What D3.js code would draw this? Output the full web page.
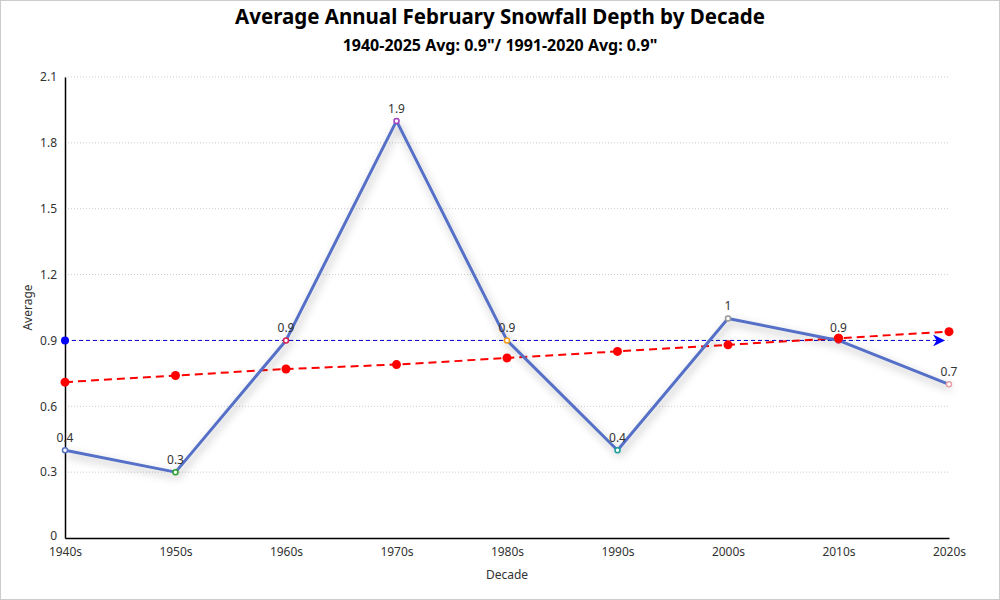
<!DOCTYPE html>
<html>
<head>
<meta charset="utf-8">
<script src="https://cdn.jsdelivr.net/npm/d3@7"></script>
<style>
  body { margin: 0; background: #fff; }
  #content { width: 1000px; height: 600px; }
  text { font-family: "Noto Sans", "Open Sans", sans-serif; }
</style>
</head>
<body>
<div id="content"></div>
<script>
(function(d3) {

   var decades = ["1940s", "1950s", "1960s", "1970s", "1980s", "1990s", "2000s", "2010s", "2020s"];
   var averages = [0.4, 0.3, 0.9, 1.9, 0.9, 0.4, 1, 0.9, 0.7];
   var trend = [0.71, 0.74, 0.77, 0.79, 0.82, 0.85, 0.88, 0.91, 0.94];
   var markerColors = ["#5470c6", "#2ca02c", "#d62050", "#a040c0", "#f39c12", "#17a09a", "#999999", "#c03060", "#e8a0a8"];
   var yTicks = [0, 0.3, 0.6, 0.9, 1.2, 1.5, 1.8, 2.1];
   var overallAvg = 0.9;

   var win_width = 1000;
   var win_height = 600;
   var left = 65, right = 949, top = 77, bottom = 538;

   var svg = d3.select("#content")
            .append("svg")
            .attr("width", win_width)
            .attr("height", win_height);

   // border round the whole chart
   svg.append("rect")
      .attr("x", 0.5).attr("y", 0.5)
      .attr("width", win_width - 1).attr("height", win_height - 1)
      .attr("fill", "#fff").attr("stroke", "#ccc");

   var defs = svg.append("defs");
   var shadow = defs.append("filter").attr("id", "shadow")
      .attr("x", "-10%").attr("y", "-10%").attr("width", "120%").attr("height", "130%");
   shadow.append("feDropShadow")
      .attr("dx", 2).attr("dy", 4).attr("stdDeviation", 4)
      .attr("flood-color", "#000").attr("flood-opacity", 0.3);

   defs.append("marker").attr("id", "arrow")
      .attr("viewBox", "0 0 10 10").attr("refX", 10).attr("refY", 5)
      .attr("markerWidth", 16).attr("markerHeight", 12).attr("markerUnits", "userSpaceOnUse")
      .attr("orient", "auto")
      .append("path").attr("d", "M0,0 L10,5 L0,10 L3,5 Z").attr("fill", "#0000ff");

   var x = d3.scalePoint().domain(decades).range([left, right]);
   var y = d3.scaleLinear().domain([0, 2.1]).range([bottom, top]);

   // title
   svg.append("text").attr("x", 500).attr("y", 24).attr("text-anchor", "middle")
      .attr("font-size", 20.5).attr("font-weight", "bold").attr("fill", "#000")
      .text("Average Annual February Snowfall Depth by Decade");
   svg.append("text").attr("x", 500).attr("y", 51).attr("text-anchor", "middle")
      .attr("font-size", 16).attr("font-weight", "bold").attr("fill", "#000")
      .text("1940-2025 Avg: 0.9\"/ 1991-2020 Avg: 0.9\"");

   // grid
   svg.append("g").selectAll("line").data(yTicks.slice(1)).enter().append("line")
      .attr("x1", left).attr("x2", right)
      .attr("y1", function(d) { return y(d); }).attr("y2", function(d) { return y(d); })
      .attr("stroke", "#ccc").attr("stroke-dasharray", "1,2");

   // axes
   var yAxis = svg.append("g").attr("transform", "translate(" + left + ",0)")
      .call(d3.axisLeft(y).tickValues(yTicks).tickSize(0).tickPadding(8).tickFormat(d3.format("")));
   var xAxis = svg.append("g").attr("transform", "translate(0," + bottom + ")")
      .call(d3.axisBottom(x).tickSize(0).tickPadding(9));
   [yAxis, xAxis].forEach(function(a) {
      a.select(".domain").attr("stroke", "#000").attr("stroke-width", 1.5);
      a.selectAll("text").attr("font-size", 12).attr("fill", "#333")
         .attr("font-family", "\"Noto Sans\", sans-serif");
   });
   // lift the 0 label a touch so it clears the first decade label
   yAxis.selectAll(".tick text").filter(function(d) { return d === 0; }).attr("dy", "0.1em");

   svg.append("text").attr("x", (left + right) / 2).attr("y", 579).attr("text-anchor", "middle")
      .attr("font-size", 12).attr("fill", "#333").text("Decade");
   svg.append("text").attr("transform", "translate(32," + ((top + bottom) / 2) + ") rotate(-90)")
      .attr("text-anchor", "middle").attr("font-size", 12).attr("fill", "#333").text("Average");

   // average mark line
   svg.append("line")
      .attr("x1", left).attr("x2", right - 4)
      .attr("y1", y(overallAvg)).attr("y2", y(overallAvg))
      .attr("stroke", "#0000cc").attr("stroke-dasharray", "4,3")
      .attr("marker-end", "url(#arrow)");
   svg.append("circle").attr("cx", left).attr("cy", y(overallAvg)).attr("r", 4).attr("fill", "#0000ff");

   // trend line
   var line = d3.line()
      .x(function(d, i) { return x(decades[i]); })
      .y(function(d) { return y(d); });

   svg.append("path").datum(trend).attr("d", line)
      .attr("fill", "none").attr("stroke", "#ff0000").attr("stroke-width", 2)
      .attr("stroke-dasharray", "8,5");
   svg.append("g").selectAll("circle").data(trend).enter().append("circle")
      .attr("cx", function(d, i) { return x(decades[i]); })
      .attr("cy", function(d) { return y(d); })
      .attr("r", 4.5).attr("fill", "#ff0000");

   // main series
   svg.append("path").datum(averages).attr("d", line)
      .attr("fill", "none").attr("stroke", "#5470c6").attr("stroke-width", 3)
      .attr("stroke-linejoin", "round").attr("filter", "url(#shadow)");

   svg.append("g").selectAll("circle").data(averages).enter().append("circle")
      .attr("cx", function(d, i) { return x(decades[i]); })
      .attr("cy", function(d) { return y(d); })
      .attr("r", 2.5).attr("fill", "#fff")
      .attr("stroke", function(d, i) { return markerColors[i]; }).attr("stroke-width", 1.5);

   // the 2010s trend dot sits on top of the series point
   svg.append("circle").attr("cx", x(decades[7])).attr("cy", y(trend[7]))
      .attr("r", 4.5).attr("fill", "#ff0000");

   svg.append("g").selectAll("text").data(averages).enter().append("text")
      .attr("x", function(d, i) { return x(decades[i]); })
      .attr("y", function(d) { return y(d) - 8; })
      .attr("text-anchor", "middle").attr("font-size", 12).attr("fill", "#333")
      .text(function(d) { return d; });

})(window.d3);
</script>
</body>
</html>
